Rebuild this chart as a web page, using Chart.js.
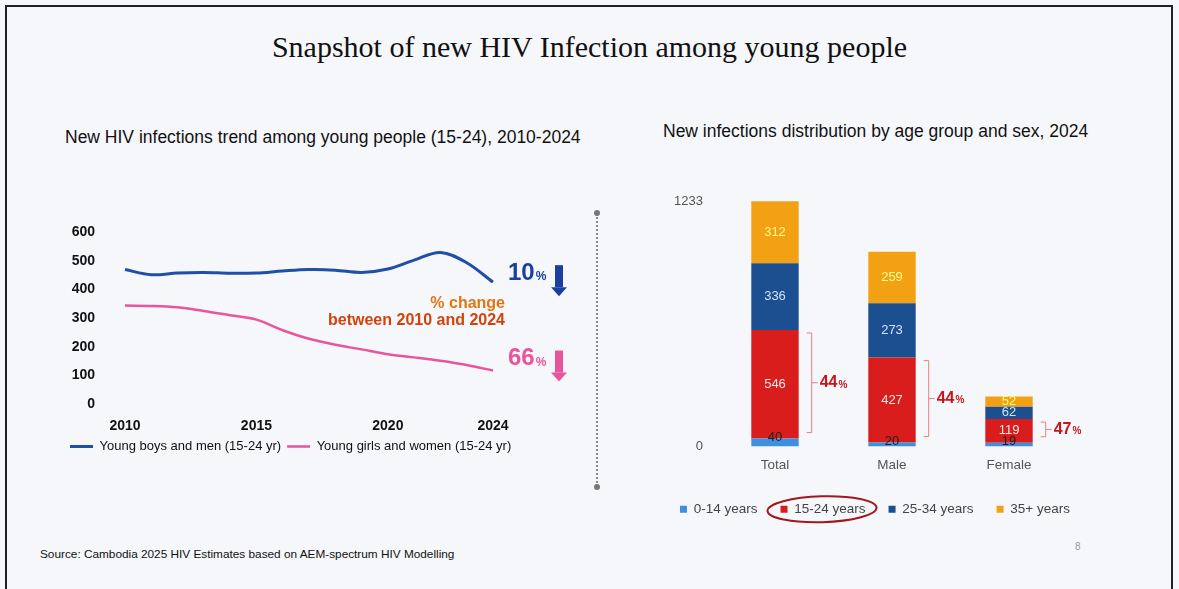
<!DOCTYPE html>
<html>
<head>
<meta charset="utf-8">
<script src="https://cdn.jsdelivr.net/npm/chart.js@4.4.0/dist/chart.umd.min.js"></script>
<style>
  body { margin: 0; background: #fff; }
  #page { position: relative; width: 1179px; height: 589px; background: #f6f7fb; overflow: hidden; font-family: "Liberation Sans", Arial, sans-serif; }
  .frame { position: absolute; left: 5px; top: 5px; width: 1164px; height: 620px; border: 2px solid #222; border-bottom: none; }
  .title { position: absolute; left: 0; width: 1179px; top: 30px; text-align: center; font-family: "Liberation Serif", "Times New Roman", serif; font-size: 30px; color: #111; }
  .sub { position: absolute; font-size: 17.5px; color: #111; white-space: nowrap; }
  .sep { position: absolute; left: 596px; top: 214px; height: 272px; border-left: 2px dotted #8a8a8a; }
  .dot { position: absolute; width: 6px; height: 6px; border-radius: 3px; background: #777; }
  .src { position: absolute; left: 40px; top: 547px; font-size: 11.8px; color: #111; }
  .pg { position: absolute; left: 1075px; top: 541px; font-size: 10px; color: #999; }
  canvas { position: absolute; }
</style>
</head>
<body>
<div id="page">
  <div class="frame"></div>
  <div class="title">Snapshot of new HIV Infection among young people</div>
  <div class="sub" style="left:65px;top:127px;">New HIV infections trend among young people (15-24), 2010-2024</div>
  <div class="sub" style="left:663px;top:121px;">New infections distribution by age group and sex, 2024</div>
  <div class="sep"></div>
  <div class="dot" style="left:594px;top:210px;"></div>
  <div class="dot" style="left:594px;top:484px;"></div>
  <div class="src">Source: Cambodia 2025 HIV Estimates based on AEM-spectrum HIV Modelling</div>
  <div class="pg">8</div>
  <canvas id="trend" style="left:50px;top:194px;width:540px;height:269px;" width="540" height="269"></canvas>
  <canvas id="dist" style="left:640px;top:180px;width:470px;height:346px;" width="470" height="346"></canvas>
</div>
<script>
// trend, 2010-2024
const years = ['2010','2011','2012','2013','2014','2015','2016','2017','2018','2019','2020','2021','2022','2023','2024'];
const yearTicks = ['2010','2015','2020','2024'];
const boys = [470, 452, 458, 460, 457, 458, 465, 470, 468, 460, 472, 503, 530, 494, 426];
const girls = [344, 343, 338, 325, 310, 295, 258, 228, 207, 191, 174, 163, 151, 136, 117];
const changePct = ['10', '66'];

// distribution 2024
const groups = ['Total', 'Male', 'Female'];
const ageLabels = ['0-14 years', '15-24 years', '25-34 years', '35+ years'];
const age0to14 = [40, 20, 19];
const age15to24 = [546, 427, 119];
const age25to34 = [336, 273, 62];
const age35plus = [312, 259, 52];
const youthShare = [44, 44, 47];
const totalMax = 1233;

const ageColors = ['#3d8fe0', '#d91c1c', '#1c4f8f', '#f2a114'];
const labelColors = ['#222', '#f3e6e6', '#cfe3f5', '#ffff8a'];

const trendNotes = {
  id: 'trendNotes',
  afterDraw(chart) {
    const { ctx, chartArea } = chart;
    const cols = ['#1b3f9e', '#e8559a'];
    ctx.save();
    chart.data.datasets.forEach((ds, i) => {
      const meta = chart.getDatasetMeta(i);
      const last = meta.data[meta.data.length - 1];
      const x0 = chartArea.right + 15;
      const y = last.y - (i === 0 ? 9 : 12);
      ctx.fillStyle = cols[i];
      ctx.textBaseline = 'middle';
      ctx.textAlign = 'left';
      ctx.font = 'bold 24px "Liberation Sans", Arial';
      ctx.fillText(changePct[i], x0, y);
      const w = ctx.measureText(changePct[i]).width;
      ctx.font = 'bold 12px "Liberation Sans", Arial';
      ctx.fillText('%', x0 + w + 1, y + 4);
      // down arrow
      const ax = x0 + 51;
      ctx.fillRect(ax - 4, y - 8, 8, 22);
      ctx.beginPath();
      ctx.moveTo(ax - 8, y + 14);
      ctx.lineTo(ax + 8, y + 14);
      ctx.lineTo(ax, y + 23);
      ctx.closePath();
      ctx.fill();
    });
    ctx.textAlign = 'right';
    ctx.font = 'bold 16px "Liberation Sans", Arial';
    ctx.fillStyle = '#e27512';
    ctx.fillText('% change', chartArea.right + 12, chartArea.top + 71);
    ctx.fillStyle = '#d4420c';
    ctx.fillText('between 2010 and 2024', chartArea.right + 12, chartArea.top + 88);
    ctx.restore();
  }
};

new Chart(document.getElementById('trend'), {
  type: 'line',
  data: {
    labels: years,
    datasets: [
      { label: 'Young boys and men (15-24 yr)', data: boys, borderColor: '#1f4fa8', backgroundColor: '#1f4fa8', borderWidth: 3, pointRadius: 0, tension: 0.35 },
      { label: 'Young girls and women (15-24 yr)', data: girls, borderColor: '#e8559a', backgroundColor: '#e8559a', borderWidth: 2.5, pointRadius: 0, tension: 0.35 }
    ]
  },
  options: {
    responsive: false,
    animation: false,
    layout: { autoPadding: false, padding: { left: 14, top: 9, right: 0, bottom: 0 } },
    plugins: {
      legend: {
        position: 'bottom',
        align: 'start',
        labels: { usePointStyle: true, pointStyle: 'line', pointStyleWidth: 23, color: '#111', font: { size: 13 }, padding: 6 }
      },
      tooltip: { enabled: false }
    },
    scales: {
      x: {
        offset: false,
        grid: { display: false, drawTicks: false },
        border: { display: false },
        afterFit: s => { s.height = 30; },
        ticks: {
          autoSkip: false, maxRotation: 0, padding: 14, color: '#111', font: { size: 14, weight: 'bold' },
          callback: function (v) { const l = this.getLabelForValue(v); return yearTicks.includes(l) ? l : ''; }
        }
      },
      y: {
        min: 0, max: 600,
        grid: { display: false, drawTicks: false },
        border: { display: false },
        afterFit: s => { s.width = 61; },
        ticks: { stepSize: 100, padding: 30, color: '#111', font: { size: 14, weight: 'bold' } }
      },
      spare: {
        position: 'right',
        grid: { display: false, drawTicks: false },
        border: { display: false },
        ticks: { display: false },
        afterFit: s => { s.width = 97; }
      }
    }
  },
  plugins: [trendNotes]
});

const distNotes = {
  id: 'distNotes',
  afterDatasetsDraw(chart) {
    const { ctx } = chart;
    ctx.save();
    ctx.textAlign = 'center';
    ctx.textBaseline = 'middle';
    ctx.font = '13px "Liberation Sans", Arial';
    chart.data.datasets.forEach((ds, i) => {
      chart.getDatasetMeta(i).data.forEach((el, j) => {
        ctx.fillStyle = labelColors[i];
        const cy = i === 0 ? el.y - 1 : (el.y + el.base) / 2;
        ctx.fillText(ds.data[j], el.x, cy);
      });
    });
    // bracket around the 15-24 segment
    chart.getDatasetMeta(1).data.forEach((el, j) => {
      const bx = el.x + el.width / 2 + 13;
      const top = el.y + 3, bot = el.base - 6, mid = (top + bot) / 2;
      ctx.strokeStyle = '#e88080';
      ctx.lineWidth = 1;
      ctx.beginPath();
      ctx.moveTo(bx - 5, top); ctx.lineTo(bx, top); ctx.lineTo(bx, bot); ctx.lineTo(bx - 5, bot);
      ctx.moveTo(bx, mid); ctx.lineTo(bx + 6, mid);
      ctx.stroke();
      ctx.textAlign = 'left';
      ctx.fillStyle = '#c4161c';
      ctx.font = 'bold 16px "Liberation Sans", Arial';
      ctx.fillText(youthShare[j], bx + 8, mid);
      const w = ctx.measureText(String(youthShare[j])).width;
      ctx.font = 'bold 10px "Liberation Sans", Arial';
      ctx.fillText('%', bx + 9 + w, mid + 2);
    });
    ctx.restore();
  },
  afterDraw(chart) {
    const hb = chart.legend.legendHitBoxes[1];
    if (!hb) return;
    const { ctx } = chart;
    ctx.save();
    ctx.strokeStyle = '#a3161a';
    ctx.lineWidth = 2;
    ctx.beginPath();
    ctx.ellipse(hb.left + hb.width / 2 - 1, hb.top + hb.height / 2, hb.width / 2 + 12, 13, -0.03, 0, Math.PI * 2);
    ctx.stroke();
    ctx.restore();
  }
};

const ageData = [age0to14, age15to24, age25to34, age35plus];
new Chart(document.getElementById('dist'), {
  type: 'bar',
  data: {
    labels: groups,
    datasets: ageLabels.map((l, i) => ({
      label: l, data: ageData[i], backgroundColor: ageColors[i], borderWidth: 0,
      barPercentage: 0.405, categoryPercentage: 1
    }))
  },
  options: {
    responsive: false,
    animation: false,
    layout: { autoPadding: false, padding: { left: 0, top: 12, right: 0, bottom: 0 } },
    plugins: {
      legend: {
        position: 'bottom',
        labels: { boxWidth: 7, boxHeight: 7, color: '#444', font: { size: 13.5 }, padding: 23 }
      },
      tooltip: { enabled: false }
    },
    scales: {
      x: {
        stacked: true,
        grid: { display: false, drawTicks: false },
        border: { display: false },
        afterFit: s => { s.height = 33; },
        ticks: { padding: 11, color: '#555', font: { size: 13.5 } }
      },
      y: {
        stacked: true, min: 0, max: totalMax,
        grid: { display: false, drawTicks: false },
        border: { display: false },
        afterFit: s => { s.width = 76.5; },
        afterBuildTicks: s => { s.ticks = [{ value: 0 }, { value: totalMax }]; },
        ticks: { padding: 13.5, color: '#555', font: { size: 13 }, callback: v => String(v) }
      },
      spare: {
        position: 'right',
        grid: { display: false, drawTicks: false },
        border: { display: false },
        ticks: { display: false },
        afterFit: s => { s.width = 42.5; }
      }
    }
  },
  plugins: [distNotes]
});
</script>
</body>
</html>
